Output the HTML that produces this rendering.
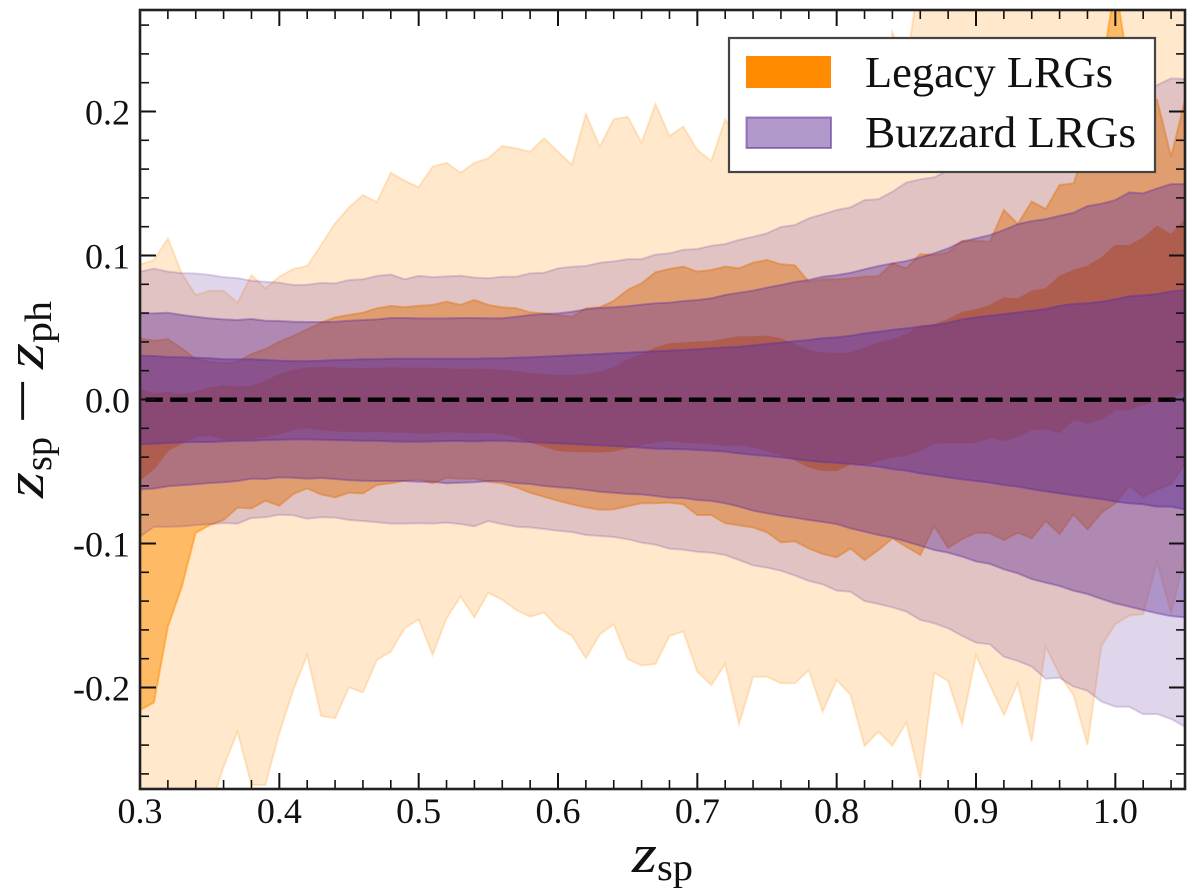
<!DOCTYPE html>
<html lang="en">
<head>
<meta charset="utf-8">
<title>Redshift residuals: Legacy vs Buzzard LRGs</title>
<style>
html,body{margin:0;padding:0;background:#fff;width:1200px;height:892px;overflow:hidden}
svg{display:block}
text{font-family:"Liberation Serif",serif;fill:#111}
</style>
</head>
<body>
<svg id="chart" xmlns="http://www.w3.org/2000/svg" width="1200" height="892" viewBox="0 0 1200 892">
  <defs>
    <clipPath id="plot-clip"><rect x="140" y="10" width="1045" height="779"/></clipPath>
  </defs>
  <rect x="0" y="0" width="1200" height="892" fill="#fff"/>
  <g id="bands" clip-path="url(#plot-clip)"></g>
  <line id="zero-line" stroke="#000" stroke-width="4.4" stroke-dasharray="17.3 7.4" stroke-dashoffset="19.2"/>
  <g id="ticks" stroke="#111"></g>
  <g id="tick-labels" font-size="36"></g>
  <rect x="140" y="10" width="1045" height="779" fill="none" stroke="#222" stroke-width="2.6"/>

  <g>
    <text x="632" y="872" font-size="54" font-style="italic" textLength="25" lengthAdjust="spacingAndGlyphs">z</text>
    <text x="657" y="880" font-size="38" textLength="36" lengthAdjust="spacingAndGlyphs">sp</text>
  </g>
  <g>
    <text transform="translate(43,498) rotate(-90)" font-size="54" font-style="italic" textLength="26" lengthAdjust="spacingAndGlyphs">z</text>
    <text transform="translate(51,471) rotate(-90)" font-size="38" textLength="34" lengthAdjust="spacingAndGlyphs">sp</text>
    <text transform="translate(42,424) rotate(-90)" font-size="58" textLength="46" lengthAdjust="spacingAndGlyphs">−</text>
    <text transform="translate(43,369) rotate(-90)" font-size="54" font-style="italic" textLength="26" lengthAdjust="spacingAndGlyphs">z</text>
    <text transform="translate(51,343) rotate(-90)" font-size="38" textLength="42" lengthAdjust="spacingAndGlyphs">ph</text>
  </g>

  <g>
    <rect x="729" y="38" width="426" height="134" fill="#fff" stroke="#444" stroke-width="2.2"/>
    <g>
      <rect x="746" y="56" width="85" height="32" fill="#ff8c00"/>
      <text x="865" y="87" font-size="44" textLength="248" lengthAdjust="spacingAndGlyphs">Legacy LRGs</text>
    </g>
    <g>
      <rect x="746.5" y="117.5" width="84.5" height="30.5" fill="#663399" fill-opacity="0.5" stroke="#663399" stroke-opacity="0.6" stroke-width="2"/>
      <text x="865" y="147" font-size="44" textLength="271" lengthAdjust="spacingAndGlyphs">Buzzard LRGs</text>
    </g>
  </g>
</svg>

<script>
const zSpBins = [0.30,0.31,0.32,0.33,0.34,0.35,0.36,0.37,0.38,0.39,0.40,0.41,0.42,0.43,0.44,0.45,0.46,0.47,0.48,0.49,0.50,0.51,0.52,0.53,0.54,
0.55,0.56,0.57,0.58,0.59,0.60,0.61,0.62,0.63,0.64,0.65,0.66,0.67,0.68,0.69,0.70,0.71,0.72,0.73,0.74,0.75,0.76,0.77,0.78,0.79,
0.80,0.81,0.82,0.83,0.84,0.85,0.86,0.87,0.88,0.89,0.90,0.91,0.92,0.93,0.94,0.95,0.96,0.97,0.98,0.99,1.00,1.01,1.02,1.03,1.04,1.05];

const legacyOuterUpper = [.0938,.0968,.1119,.0876,.0725,.0755,.0755,.0672,.0864,.0772,.0853,.0906,.0927,.1073,.1223,.1334,.1420,.1371,.1575,.1519,.1475,.1617,.1644,.1575,.1644,
.1675,.1761,.1744,.1721,.1814,.1721,.1629,.1983,.1756,.1946,.1964,.1784,.2052,.1830,.1895,.1733,.1656,.1946,.1800,.1950,.2100,.1900,.2050,.2200,.2100,
.2200,.2100,.2300,.2000,.2554,.2310,.3000,.3100,.3200,.3100,.3300,.3200,.3300,.3400,.3300,.3400,.3500,.3400,.3500,.3600,.3700,.3600,.3700,.3800,.3700,.3800];
const legacyOuterLower = [-.3000,-.3000,-.3100,-.3000,-.3000,-.2850,-.2550,-.2307,-.2677,-.2677,-.2318,-.2017,-.1774,-.2198,-.2214,-.1999,-.2034,-.1809,-.1751,-.1589,-.1527,-.1774,-.1520,-.1369,-.1513,
-.1342,-.1392,-.1462,-.1508,-.1480,-.1584,-.1642,-.1797,-.1631,-.1561,-.1802,-.1848,-.1837,-.1642,-.1612,-.1890,-.1983,-.1837,-.2254,-.1925,-.1925,-.1971,-.1971,-.1879,-.2168,
-.1948,-.2052,-.2406,-.2307,-.2404,-.2244,-.2642,-.1897,-.1955,-.2254,-.1779,-.1983,-.2191,-.1971,-.2376,-.1716,-.1913,-.2052,-.2399,-.1712,-.1559,-.1501,-.1490,-.1126,-.1485,-.1091];
const legacyMidUpper = [.0424,.0408,.0418,.0355,.0279,.0262,.0251,.0262,.0316,.0350,.0401,.0441,.0487,.0533,.0570,.0587,.0603,.0633,.0649,.0640,.0651,.0656,.0679,.0656,.0691,
.0656,.0640,.0633,.0605,.0598,.0587,.0575,.0633,.0640,.0684,.0761,.0807,.0883,.0906,.0923,.0888,.0899,.0923,.0911,.0950,.0969,.0939,.0932,.0818,.0835,
.0834,.0841,.0853,.0857,.0945,.0911,.1010,.1003,.1022,.1103,.1103,.1096,.1316,.1218,.1374,.1323,.1489,.1501,.1779,.2265,.2890,.2265,.2103,.2080,.1686,.2080];
const legacyMidLower = [-.2156,-.2105,-.1578,-.1300,-.0925,-.0872,-.0837,-.0751,-.0756,-.0703,-.0737,-.0656,-.0617,-.0659,-.0679,-.0647,-.0652,-.0594,-.0582,-.0564,-.0554,-.0582,-.0543,-.0550,-.0550,
-.0571,-.0582,-.0610,-.0647,-.0675,-.0703,-.0728,-.0749,-.0765,-.0763,-.0740,-.0721,-.0721,-.0716,-.0728,-.0802,-.0802,-.0860,-.0874,-.0888,-.0922,-.0992,-.0985,-.1034,-.1073,
-.1096,-.1034,-.1115,-.1045,-.0964,-.1022,-.1080,-.0878,-.1029,-.0969,-.0925,-.0929,-.0976,-.0925,-.0964,-.0844,-.0934,-.0797,-.0902,-.0786,-.0721,-.0601,-.0675,-.0624,-.0589,-.0443];
const legacyInnerUpper = [.0070,.0036,.0047,.0031,.0047,.0077,.0094,.0082,.0089,.0123,.0170,.0200,.0216,.0221,.0216,.0209,.0211,.0214,.0216,.0214,.0214,.0214,.0211,.0205,.0209,
.0205,.0200,.0193,.0177,.0170,.0163,.0163,.0170,.0186,.0217,.0274,.0309,.0356,.0383,.0390,.0395,.0399,.0418,.0432,.0432,.0437,.0418,.0379,.0339,.0321,
.0316,.0320,.0355,.0390,.0413,.0448,.0506,.0517,.0552,.0603,.0621,.0649,.0702,.0695,.0749,.0765,.0853,.0894,.0922,.0980,.1066,.1066,.1119,.1200,.1142,.1246];
const legacyInnerLower = [-.0554,-.0478,-.0351,-.0300,-.0254,-.0247,-.0270,-.0277,-.0270,-.0254,-.0235,-.0207,-.0193,-.0207,-.0216,-.0216,-.0223,-.0216,-.0223,-.0223,-.0230,-.0230,-.0219,-.0226,-.0226,
-.0226,-.0235,-.0254,-.0293,-.0323,-.0351,-.0358,-.0360,-.0362,-.0355,-.0335,-.0311,-.0293,-.0281,-.0293,-.0298,-.0305,-.0316,-.0311,-.0328,-.0351,-.0385,-.0416,-.0466,-.0490,
-.0490,-.0443,-.0450,-.0420,-.0397,-.0385,-.0351,-.0300,-.0297,-.0297,-.0295,-.0263,-.0281,-.0254,-.0207,-.0200,-.0226,-.0138,-.0161,-.0131,-.0068,-.0068,-.0031,-.0005,.0015,.0070];

const buzzardOuterUpper = [.0888,.0908,.0888,.0878,.0875,.0865,.0850,.0843,.0825,.0818,.0811,.0795,.0797,.0810,.0806,.0830,.0835,.0858,.0868,.0835,.0858,.0850,.0855,.0860,.0847,
.0842,.0853,.0853,.0876,.0880,.0911,.0922,.0927,.0950,.0959,.0975,.0975,.1006,.1015,.1040,.1045,.1068,.1080,.1108,.1130,.1154,.1198,.1212,.1258,.1286,
.1316,.1335,.1385,.1392,.1443,.1506,.1529,.1543,.1590,.1620,.1650,.1690,.1720,.1760,.1800,.1840,.1880,.1920,.1970,.2010,.2060,.2090,.2130,.2184,.2230,.2226];
const buzzardOuterLower = [-.0953,-.0883,-.0885,-.0881,-.0872,-.0865,-.0858,-.0862,-.0823,-.0818,-.0800,-.0804,-.0828,-.0818,-.0820,-.0837,-.0844,-.0853,-.0862,-.0862,-.0860,-.0862,-.0855,-.0865,-.0881,
-.0844,-.0865,-.0883,-.0888,-.0899,-.0911,-.0920,-.0941,-.0948,-.0955,-.0971,-.0994,-.1008,-.1036,-.1043,-.1057,-.1064,-.1080,-.1115,-.1152,-.1168,-.1189,-.1223,-.1260,-.1284,
-.1328,-.1335,-.1400,-.1420,-.1443,-.1473,-.1531,-.1554,-.1589,-.1642,-.1689,-.1700,-.1786,-.1816,-.1855,-.1939,-.1932,-.1994,-.2022,-.2098,-.2133,-.2133,-.2186,-.2184,-.2219,-.2272];
const buzzardMidUpper = [.0598,.0598,.0603,.0587,.0575,.0563,.0556,.0552,.0559,.0547,.0545,.0540,.0538,.0538,.0540,.0547,.0552,.0556,.0566,.0566,.0563,.0563,.0563,.0566,.0566,
.0564,.0564,.0575,.0587,.0594,.0598,.0610,.0626,.0636,.0640,.0647,.0659,.0668,.0673,.0684,.0691,.0703,.0726,.0742,.0756,.0777,.0795,.0816,.0830,.0853,
.0864,.0880,.0904,.0927,.0945,.0961,.0987,.1015,.1049,.1096,.1119,.1142,.1177,.1218,.1239,.1253,.1276,.1297,.1343,.1360,.1385,.1438,.1431,.1466,.1496,.1496];
const buzzardMidLower = [-.0624,-.0619,-.0603,-.0596,-.0589,-.0580,-.0575,-.0566,-.0550,-.0552,-.0541,-.0543,-.0550,-.0545,-.0552,-.0561,-.0564,-.0566,-.0566,-.0566,-.0571,-.0571,-.0582,-.0578,-.0575,
-.0566,-.0568,-.0582,-.0587,-.0601,-.0610,-.0617,-.0628,-.0640,-.0647,-.0656,-.0659,-.0670,-.0682,-.0684,-.0698,-.0705,-.0721,-.0744,-.0772,-.0790,-.0807,-.0821,-.0837,-.0850,
-.0865,-.0895,-.0918,-.0941,-.0960,-.0987,-.1015,-.1045,-.1064,-.1091,-.1124,-.1142,-.1179,-.1207,-.1247,-.1272,-.1295,-.1328,-.1351,-.1385,-.1416,-.1439,-.1462,-.1485,-.1504,-.1513];
const buzzardInnerUpper = [.0304,.0302,.0295,.0293,.0290,.0286,.0279,.0279,.0279,.0274,.0269,.0267,.0267,.0269,.0274,.0276,.0279,.0279,.0283,.0283,.0283,.0283,.0283,.0283,.0283,
.0286,.0286,.0291,.0293,.0298,.0302,.0307,.0311,.0316,.0321,.0325,.0330,.0335,.0339,.0344,.0349,.0356,.0362,.0367,.0376,.0386,.0395,.0404,.0413,.0425,
.0431,.0443,.0459,.0471,.0483,.0494,.0506,.0517,.0533,.0556,.0570,.0582,.0593,.0605,.0617,.0628,.0651,.0663,.0668,.0679,.0695,.0718,.0723,.0732,.0751,.0760];
const buzzardInnerLower = [-.0311,-.0307,-.0302,-.0298,-.0295,-.0295,-.0291,-.0286,-.0286,-.0281,-.0279,-.0277,-.0277,-.0279,-.0281,-.0284,-.0286,-.0286,-.0291,-.0293,-.0293,-.0291,-.0288,-.0288,-.0291,
-.0286,-.0286,-.0291,-.0295,-.0300,-.0305,-.0309,-.0314,-.0318,-.0323,-.0328,-.0335,-.0341,-.0344,-.0346,-.0351,-.0355,-.0362,-.0374,-.0385,-.0392,-.0402,-.0413,-.0425,-.0434,
-.0439,-.0448,-.0457,-.0466,-.0483,-.0494,-.0513,-.0527,-.0541,-.0554,-.0566,-.0577,-.0594,-.0605,-.0622,-.0638,-.0652,-.0666,-.0679,-.0691,-.0709,-.0721,-.0728,-.0744,-.0744,-.0763];

const xMajorTicks = [0.3,0.4,0.5,0.6,0.7,0.8,0.9,1.0];
const xTickLabels = ["0.3","0.4","0.5","0.6","0.7","0.8","0.9","1.0"];
const yMajorTicks = [-0.2,-0.1,0.0,0.1,0.2];
const yTickLabels = ["-0.2","-0.1","0.0","0.1","0.2"];
const xMinorTicks = [0.32,0.34,0.36,0.38,0.42,0.44,0.46,0.48,0.52,0.54,0.56,0.58,0.62,0.64,0.66,0.68,0.72,0.74,0.76,0.78,0.82,0.84,0.86,0.88,0.92,0.94,0.96,0.98,1.02,1.04];
const yMinorTicks = [-0.26,-0.24,-0.22,-0.18,-0.16,-0.14,-0.12,-0.08,-0.06,-0.04,-0.02,0.02,0.04,0.06,0.08,0.12,0.14,0.16,0.18,0.22,0.24,0.26];

const xDomain = [0.3, 1.05];
const yDomain = [-0.27, 0.27];

function xScale(v){ return 140 + (v - xDomain[0]) / (xDomain[1] - xDomain[0]) * 1045; }
function yScale(v){ return 788.3 - (v - yDomain[0]) / (yDomain[1] - yDomain[0]) * 777.6; }

const SVG_NS = 'http://www.w3.org/2000/svg';

function drawBand(parent, name, upper, lower, color, alpha){
  const pts = [];
  for (let i = 0; i < zSpBins.length; i++) pts.push(xScale(zSpBins[i]).toFixed(1) + ',' + yScale(upper[i]).toFixed(1));
  for (let i = zSpBins.length - 1; i >= 0; i--) pts.push(xScale(zSpBins[i]).toFixed(1) + ',' + yScale(lower[i]).toFixed(1));
  const el = document.createElementNS(SVG_NS, 'polygon');
  el.setAttribute('points', pts.join(' '));
  el.setAttribute('fill', color);
  el.setAttribute('fill-opacity', alpha);
  el.setAttribute('stroke', color);
  el.setAttribute('stroke-opacity', alpha);
  el.setAttribute('stroke-width', '2');
  
  
  parent.appendChild(el);
}

const bandsGroup = document.getElementById('bands');
const LEGACY = '#ff8c00';
const BUZZARD = '#663399';
drawBand(bandsGroup, 'legacy-outer-band', legacyOuterUpper, legacyOuterLower, LEGACY, 0.2);
drawBand(bandsGroup, 'legacy-middle-band', legacyMidUpper, legacyMidLower, LEGACY, 0.5);
drawBand(bandsGroup, 'legacy-inner-band', legacyInnerUpper, legacyInnerLower, LEGACY, 1);
drawBand(bandsGroup, 'buzzard-outer-band', buzzardOuterUpper, buzzardOuterLower, BUZZARD, 0.2);
drawBand(bandsGroup, 'buzzard-middle-band', buzzardMidUpper, buzzardMidLower, BUZZARD, 0.4);
drawBand(bandsGroup, 'buzzard-inner-band', buzzardInnerUpper, buzzardInnerLower, BUZZARD, 0.5);

const zeroLine = document.getElementById('zero-line');
zeroLine.setAttribute('x1', xScale(xDomain[0]));
zeroLine.setAttribute('x2', xScale(xDomain[1]));
zeroLine.setAttribute('y1', yScale(0) + 0.2);
zeroLine.setAttribute('y2', yScale(0) + 0.2);

const ticksGroup = document.getElementById('ticks');
function drawTick(name, x1, y1, x2, y2, width){
  const t = document.createElementNS(SVG_NS, 'line');
  t.setAttribute('x1', x1);
  t.setAttribute('y1', y1);
  t.setAttribute('x2', x2);
  t.setAttribute('y2', y2);
  t.setAttribute('stroke-width', width);
  
  
  ticksGroup.appendChild(t);
}
const PLOT_TOP = 10, PLOT_BOTTOM = 789, PLOT_LEFT = 140, PLOT_RIGHT = 1185;
const MAJOR_LEN = 16, MINOR_LEN = 9;
xMajorTicks.forEach(function(v){
  const x = xScale(v);
  drawTick('x-major-tick', x, PLOT_BOTTOM, x, PLOT_BOTTOM - MAJOR_LEN, 2);
  drawTick('x-major-tick-top', x, PLOT_TOP, x, PLOT_TOP + MAJOR_LEN, 2);
});
xMinorTicks.forEach(function(v){
  const x = xScale(v);
  drawTick('x-minor-tick', x, PLOT_BOTTOM, x, PLOT_BOTTOM - MINOR_LEN, 1.6);
  drawTick('x-minor-tick-top', x, PLOT_TOP, x, PLOT_TOP + MINOR_LEN, 1.6);
});
yMajorTicks.forEach(function(v){
  const y = yScale(v);
  drawTick('y-major-tick', PLOT_LEFT, y, PLOT_LEFT + MAJOR_LEN, y, 2);
  drawTick('y-major-tick-right', PLOT_RIGHT, y, PLOT_RIGHT - MAJOR_LEN, y, 2);
});
yMinorTicks.forEach(function(v){
  const y = yScale(v);
  drawTick('y-minor-tick', PLOT_LEFT, y, PLOT_LEFT + MINOR_LEN, y, 1.6);
  drawTick('y-minor-tick-right', PLOT_RIGHT, y, PLOT_RIGHT - MINOR_LEN, y, 1.6);
});

const labelsGroup = document.getElementById('tick-labels');
xMajorTicks.forEach(function(v, i){
  const t = document.createElementNS(SVG_NS, 'text');
  t.setAttribute('x', xScale(v));
  t.setAttribute('y', 823);
  t.setAttribute('text-anchor', 'middle');
  
  
  t.textContent = xTickLabels[i];
  labelsGroup.appendChild(t);
});
yMajorTicks.forEach(function(v, i){
  const t = document.createElementNS(SVG_NS, 'text');
  t.setAttribute('x', 130);
  t.setAttribute('y', yScale(v) + 13);
  t.setAttribute('text-anchor', 'end');
  
  
  t.textContent = yTickLabels[i];
  labelsGroup.appendChild(t);
});
</script>
</body>
</html>
